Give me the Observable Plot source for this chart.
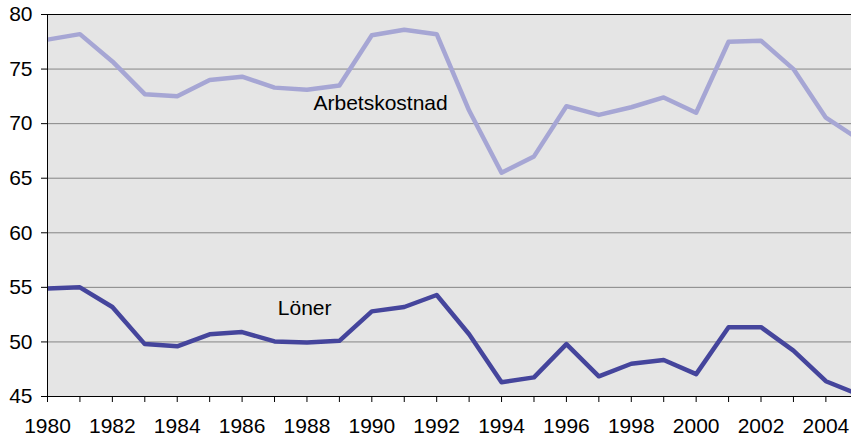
<!DOCTYPE html>
<html>
<head>
<meta charset="utf-8">
<script src="https://cdn.jsdelivr.net/npm/d3@7"></script>
<script src="https://cdn.jsdelivr.net/npm/@observablehq/plot@0.6"></script>
<style>
  html, body { margin: 0; padding: 0; background: #fff; }
  #chart svg { display: block; }
</style>
</head>
<body>
<div id="chart"></div>
<script>
const years = [1980,1981,1982,1983,1984,1985,1986,1987,1988,1989,1990,1991,1992,1993,1994,1995,1996,1997,1998,1999,2000,2001,2002,2003,2004,2005];
const arbetskostnad = [77.7,78.2,75.7,72.7,72.5,74.0,74.3,73.3,73.1,73.5,78.1,78.6,78.2,71.2,65.5,67.0,71.6,70.8,71.5,72.4,71.0,77.5,77.6,75.0,70.55,68.6];
const loner = [54.9,55.0,53.2,49.8,49.6,50.7,50.9,50.05,49.95,50.1,52.8,53.2,54.3,50.7,46.3,46.75,49.8,46.85,48.0,48.35,47.05,51.35,51.35,49.2,46.4,45.2];
const yTicks = [45,50,55,60,65,70,75,80];
const xTicks = [1980,1981,1982,1983,1984,1985,1986,1987,1988,1989,1990,1991,1992,1993,1994,1995,1996,1997,1998,1999,2000,2001,2002,2003,2004];
const seriesNames = ["Arbetskostnad", "Löner"];

const dataA = years.map((y, i) => ({year: y, value: arbetskostnad[i]}));
const dataL = years.map((y, i) => ({year: y, value: loner[i]}));
const labels = [
  {name: seriesNames[0], year: 1988.2, value: 71.85},
  {name: seriesNames[1], year: 1987.1, value: 53.1}
];

const chart = Plot.plot({
  width: 851,
  height: 439,
  marginLeft: 47,
  marginRight: 0,
  marginTop: 14,
  marginBottom: 43,
  style: {fontFamily: "'Liberation Sans', Arial, sans-serif", fontSize: "21px", color: "#000", background: "#fff"},
  x: {domain: [1980, 2004.79], axis: null},
  y: {domain: [45, 80], axis: null},
  marks: [
    Plot.frame({fill: "#e5e5e5", stroke: null}),
    Plot.gridY(yTicks, {stroke: "#858585", strokeOpacity: 1, strokeWidth: 1}),
    Plot.line(dataA, {x: "year", y: "value", stroke: "#a6a6d4", strokeWidth: 4.5, clip: true}),
    Plot.line(dataL, {x: "year", y: "value", stroke: "#45459c", strokeWidth: 4.5, clip: true}),
    Plot.text(labels, {x: "year", y: "value", text: "name", textAnchor: "start", fill: "#000", fontSize: 21}),
    Plot.ruleY([80], {stroke: "#000", strokeWidth: 1}),
    Plot.ruleY([45], {stroke: "#000", strokeWidth: 1}),
    Plot.ruleX([1980], {stroke: "#000", strokeWidth: 1}),
    Plot.axisY(yTicks, {label: null, tickSize: 6, tickPadding: 9, stroke: "#000", fill: "#000", fontSize: 21, tickFormat: d => String(d)}),
    Plot.axisX(xTicks, {label: null, tickSize: 6, tickPadding: 16, stroke: "#000", fill: "#000", fontSize: 21, tickFormat: d => d % 2 === 0 ? String(d) : ""})
  ]
});
document.getElementById("chart").appendChild(chart);
</script>
</body>
</html>
